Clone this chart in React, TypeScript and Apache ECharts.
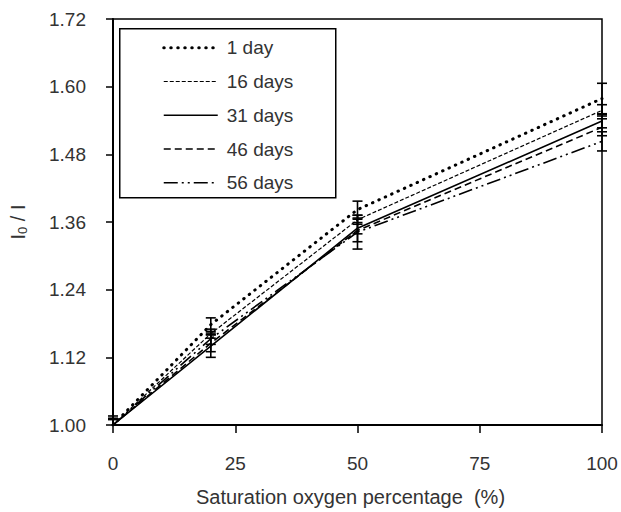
import React, { useEffect, useRef } from "react";
import * as echarts from "echarts";

const xValues = [0, 20, 50, 100];
const seriesNames = ["1 day", "16 days", "31 days", "46 days", "56 days"];
const day1 = [1.0, 1.178, 1.382, 1.579];
const day16 = [1.0, 1.162, 1.364, 1.558];
const day31 = [1.0, 1.14, 1.349, 1.539];
const day46 = [1.0, 1.145, 1.345, 1.528];
const day56 = [1.0, 1.153, 1.342, 1.503];
const err1 = [0.016, 0.012, 0.015, 0.027];
const err16 = [0.012, 0.008, 0.008, 0.01];
const err31 = [0.01, 0.02, 0.01, 0.012];
const err46 = [0.01, 0.015, 0.02, 0.015];
const err56 = [0.01, 0.01, 0.03, 0.017];
const xTicks = [0, 25, 50, 75, 100];
const yTicks = [1.0, 1.12, 1.24, 1.36, 1.48, 1.6, 1.72];

const FONT = "Liberation Sans, Arial, sans-serif";
const TEXT = "#333";

const values = [day1, day16, day31, day46, day56];
const errors = [err1, err16, err31, err46, err56];
const lineStyles: any[] = [
  { width: 3, dash: [0.5, 6.5], cap: "round" },
  { width: 1.2, dash: [4, 2], cap: "butt" },
  { width: 1.6, dash: null, cap: "butt" },
  { width: 1.6, dash: [7, 4], cap: "butt" },
  { width: 1.6, dash: [14, 4, 2, 4, 2, 4], cap: "butt" },
];

export default function App() {
  const ref = useRef<HTMLDivElement>(null);
  useEffect(() => {
    if (!ref.current) return;
    const chart = echarts.init(ref.current, null, { renderer: "svg" });
    const yMin = yTicks[0];
    const lineSeries = seriesNames.map((name, i) => ({
      name,
      type: "line",
      data: xValues.map((x, j) => [x, values[i][j]]),
      symbol: "none",
      showSymbol: false,
      lineStyle: {
        color: "#000",
        width: lineStyles[i].width,
        type: lineStyles[i].dash || "solid",
        cap: lineStyles[i].cap,
      },
      itemStyle: { color: "#000" },
      z: 3,
    }));
    const errSeries = seriesNames.map((name, i) => ({
      name: name + " error",
      type: "custom",
      clip: false,
      z: 4,
      data: xValues.map((x, j) => [x, values[i][j] - errors[i][j], values[i][j] + errors[i][j]]),
      encode: { x: 0, y: [1, 2] },
      renderItem: (params: any, api: any) => {
        const x = api.value(0);
        const loRaw = api.value(1);
        const hi = api.value(2);
        const lo = Math.max(loRaw, yMin);
        const pLo = api.coord([x, lo]);
        const pHi = api.coord([x, hi]);
        const w = 5;
        const style = { stroke: "#000", lineWidth: 1.6 };
        const children: any[] = [
          { type: "line", shape: { x1: pLo[0], y1: pLo[1], x2: pHi[0], y2: pHi[1] }, style },
          { type: "line", shape: { x1: pHi[0] - w, y1: pHi[1], x2: pHi[0] + w, y2: pHi[1] }, style },
        ];
        if (loRaw >= yMin) {
          children.push({ type: "line", shape: { x1: pLo[0] - w, y1: pLo[1], x2: pLo[0] + w, y2: pLo[1] }, style });
        }
        return { type: "group", children };
      },
    }));

    const legendLeft = 119;
    const legendTop = 28;
    const legendChildren: any[] = [
      {
        type: "rect",
        shape: { x: 0, y: 0, width: 216, height: 169 },
        style: { fill: "#fff", stroke: "#000", lineWidth: 1.5 },
      },
    ];
    seriesNames.forEach((name, i) => {
      const cy = 19 + i * 33.75;
      const ls = lineStyles[i];
      legendChildren.push({
        type: "line",
        shape: { x1: 44, y1: cy, x2: 98, y2: cy },
        style: { stroke: "#000", lineWidth: ls.width, lineDash: ls.dash, lineCap: ls.cap },
      });
      legendChildren.push({
        type: "text",
        x: 107,
        y: cy,
        style: { text: name, fontSize: 19, fontFamily: FONT, fill: TEXT, verticalAlign: "middle", align: "left" },
      });
    });

    chart.setOption({
      animation: false,
      backgroundColor: "#fff",
      textStyle: { fontFamily: FONT },
      grid: { left: 107, right: 19, top: 19, bottom: 85, show: true, borderColor: "#000", borderWidth: 1.5 },
      graphic: [{ type: "group", left: legendLeft, top: legendTop, z: 10, children: legendChildren }],
      xAxis: {
        type: "value",
        min: xTicks[0],
        max: xTicks[xTicks.length - 1],
        interval: 25,
        name: "Saturation oxygen percentage  (%)",
        nameLocation: "middle",
        nameGap: 62,
        nameTextStyle: { fontSize: 20, color: TEXT, fontFamily: FONT, padding: [0, 14, 0, 0] },
        axisLine: { lineStyle: { color: "#000", width: 2 } },
        axisTick: { inside: false, length: 8, lineStyle: { color: "#000", width: 1.5 } },
        axisLabel: { fontSize: 19, color: TEXT, margin: 29, fontFamily: FONT },
        splitLine: { show: false },
      },
      yAxis: {
        type: "value",
        min: yTicks[0],
        max: yTicks[yTicks.length - 1],
        interval: 0.12,
        name: "{i|I}{s|0}{i| / I}",
        nameLocation: "middle",
        nameRotate: 90,
        nameGap: 84,
        nameTextStyle: {
          color: TEXT,
          fontFamily: FONT,
          rich: {
            i: { fontSize: 20, color: TEXT, fontFamily: FONT },
            s: { fontSize: 13, color: TEXT, fontFamily: FONT, padding: [9, 0, 0, 0] },
          },
        },
        axisLine: { lineStyle: { color: "#000", width: 2 } },
        axisTick: { inside: false, length: 7, lineStyle: { color: "#000", width: 1.5 } },
        axisLabel: { fontSize: 19, color: TEXT, margin: 27, fontFamily: FONT, formatter: (v: number) => v.toFixed(2) },
        splitLine: { show: false },
      },
      series: [...lineSeries, ...errSeries],
    });
    return () => chart.dispose();
  }, []);
  return <div ref={ref} style={{ position: "fixed", left: 0, top: 0, width: 621, height: 512 }} />;
}
